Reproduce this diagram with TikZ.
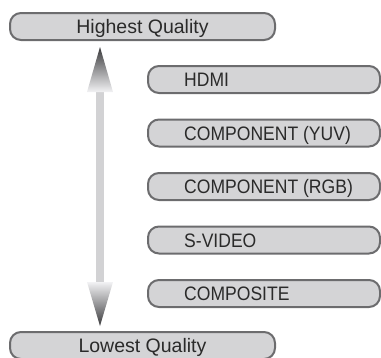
\documentclass[tikz,border=0pt]{standalone}
\usepackage{fontspec}
\setmainfont{Liberation Sans}
\newfontfamily\narrowfont[FakeStretch=0.9]{Liberation Sans}
\usepackage{xcolor}
\usepackage{tikz}
\usetikzlibrary{calc, positioning}

\definecolor{boxfill}{HTML}{D4D4D6}
\definecolor{boxline}{HTML}{6C6C6E}
\definecolor{textgray}{HTML}{2A2A2A}
\definecolor{shaftgray}{HTML}{D2D2D4}
\definecolor{tipdark}{HTML}{3A3A3C}
\definecolor{baselight}{HTML}{F2F2F4}

\begin{document}
\begin{tikzpicture}[x=1pt, y=-1pt,
    qualitybox/.style={draw=boxline, line width=2pt, fill=boxfill, rounded corners=11pt,
        minimum width=265pt, minimum height=27pt, inner sep=0pt,
        text height=14pt, text depth=0pt, text=textgray, font=\fontsize{19.5}{22}\selectfont},
    inputbox/.style={draw=boxline, line width=2pt, fill=boxfill, rounded corners=11pt,
        minimum width=232pt, minimum height=27pt, inner sep=0pt},
    inputlabel/.style={inner sep=0pt, text height=14pt, text depth=0pt,
        text=textgray, font=\narrowfont\fontsize{19.5}{22}\selectfont}]
    \useasboundingbox (0,0) rectangle (381,357);

    % 1. Hai mức chất lượng ở trên và dưới
    \node[qualitybox] (high) at (142.5,26.5) {Highest Quality};
    \node[qualitybox] (low) at (142.5,345.5) {Lowest Quality};

    % 2. Mũi tên hai chiều (thân xám nhạt, hai đầu tô chuyển màu)
    \coordinate (uptip) at (100,47);
    \coordinate (downtip) at (100,326);
    \fill[shaftgray] (96,92) rectangle (104,282);
    \shade[top color=tipdark, bottom color=baselight]
        (uptip) -- ($(uptip)+(13,45)$) -- ($(uptip)+(-13,45)$) -- cycle;
    \shade[top color=baselight, bottom color=tipdark]
        (downtip) -- ($(downtip)+(-13,-44)$) -- ($(downtip)+(13,-44)$) -- cycle;

    % 3. Các cổng vào, xếp từ tốt nhất xuống
    \node[inputbox] (hdmi) at (264,79.5) {};
    \node[inputbox] (yuv) at (264,133) {};
    \node[inputbox] (rgb) at (264,186.5) {};
    \node[inputbox] (svideo) at (264,240) {};
    \node[inputbox] (composite) at (264,293.5) {};

    % Nhãn chữ canh trái trong từng ô
    \node[inputlabel, anchor=west] (hdmitext) at ([xshift=37pt]hdmi.west) {HDMI};
    \node[inputlabel, anchor=west] (yuvtext) at ([xshift=37pt]yuv.west) {COMPONENT (YUV)};
    \node[inputlabel, anchor=west] (rgbtext) at ([xshift=37pt]rgb.west) {COMPONENT (RGB)};
    \node[inputlabel, anchor=west] (svideotext) at ([xshift=37pt]svideo.west) {S-VIDEO};
    \node[inputlabel, anchor=west] (compositetext) at ([xshift=37pt]composite.west) {COMPOSITE};

\end{tikzpicture}
\end{document}
